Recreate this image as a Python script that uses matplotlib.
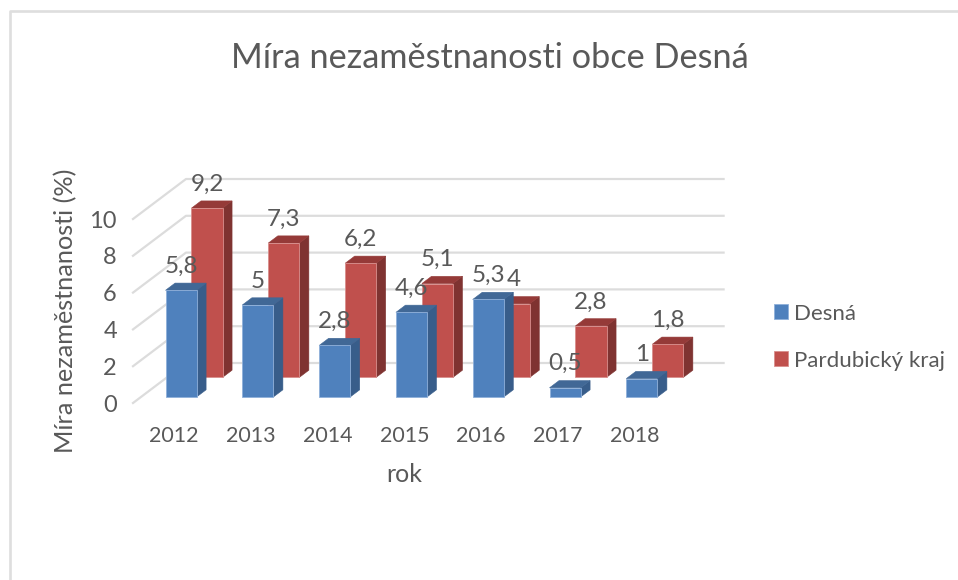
import matplotlib
matplotlib.use("Agg")
import matplotlib.pyplot as plt
from matplotlib.lines import Line2D
from matplotlib.patches import Patch, Polygon

plt.rcParams["font.family"] = ["Lato", "DejaVu Sans"]

years = ["2012", "2013", "2014", "2015", "2016", "2017", "2018"]
desna = [5.8, 5, 2.8, 4.6, 5.3, 0.5, 1]
pardubice = [9.2, 7.3, 6.2, 5.1, 4, 2.8, 1.8]
y_ticks = [0, 2, 4, 6, 8, 10]

text_col = "#595959"
grid_col = "#dcdcdc"

# pixels per unit and the oblique shift of the floor
cat_px = 76.8
val_px = 18.4
left_px = 133
floor_px = 403
depth_dx = 53 / cat_px
depth_dy = 40 / val_px


def project(c, d, v):
    return c + d * depth_dx, v + d * depth_dy


def draw_bar(ax, c, d0, value, cols, edge, z):
    width = 0.404
    depth = 0.18
    x0 = c + 0.32
    x1 = x0 + width
    d1 = d0 + depth
    front = [project(x0, d0, 0), project(x1, d0, 0), project(x1, d0, value), project(x0, d0, value)]
    side = [project(x1, d0, 0), project(x1, d1, 0), project(x1, d1, value), project(x1, d0, value)]
    top = [project(x0, d0, value), project(x1, d0, value), project(x1, d1, value), project(x0, d1, value)]
    ax.add_patch(Polygon(side, fc=cols[1], ec=cols[1], lw=0.4, zorder=z))
    ax.add_patch(Polygon(top, fc=cols[2], ec=cols[2], lw=0.4, zorder=z))
    ax.add_patch(Polygon(front, fc=cols[0], ec=edge, lw=0.6, zorder=z + 0.1))
    return project(x0 + width / 2, d0, value)


fig = plt.figure(figsize=(9.58, 5.8), dpi=100)
ax = fig.add_axes([0, 0, 1, 1])
ax.set_xlim(-left_px / cat_px, (958 - left_px) / cat_px)
ax.set_ylim((floor_px - 580) / val_px, floor_px / val_px)
ax.axis("off")

# chart frame, cut off by the screenshot on the right and at the bottom
fig.add_artist(Line2D([9.5 / 958, 9.5 / 958, 1], [0, 1 - 11 / 580, 1 - 11 / 580], color="#dedede", lw=1.9))

# walls
for v in y_ticks:
    xs, ys = zip(project(0, 0, v), project(0, 1, v), project(len(years), 1, v))
    ax.plot(xs, ys, color=grid_col, lw=1.6, zorder=1)
    ax.annotate(str(v), project(0, 0, v), xytext=(-16, -2), textcoords="offset pixels",
                ha="right", va="center", fontsize=17, color=text_col)

blue = ("#4f81bd", "#385d8a", "#416896")
red = ("#c0504d", "#7f3331", "#953a38")

labels = []
for i, v in enumerate(pardubice):
    labels.append((draw_bar(ax, i, 0.64, v, red, "#d98f8d", 3 + i * 0.2), v))
for i, v in enumerate(desna):
    labels.append((draw_bar(ax, i, 0.15, v, blue, "#8fb0da", 6 + i * 0.2), v))

for pos, v in labels:
    ax.annotate(str(v).replace(".", ","), pos, xytext=(0, 24), textcoords="offset pixels",
                ha="center", va="center", fontsize=17.5, color=text_col, zorder=10)

for i, year in enumerate(years):
    ax.annotate(year, (i + 0.5, 0), xytext=(2.5, -33), textcoords="offset pixels",
                ha="center", va="center", fontsize=15.4, color=text_col)

ax.text(489.5 / 958, 1 - 58 / 580, "Míra nezaměstnanosti obce Desná", transform=ax.transAxes,
        ha="center", va="center", fontsize=24.7, color=text_col)
ax.text(404 / 958, 1 - 474 / 580, "rok", transform=ax.transAxes,
        ha="center", va="center", fontsize=18, color=text_col)
ax.text(66 / 958, 1 - 311 / 580, "Míra nezaměstnanosti (%)", transform=ax.transAxes, rotation=90,
        ha="center", va="center", fontsize=18.2, color=text_col)

handles = [Patch(fc=blue[0], ec="#8fb0da", lw=0.6), Patch(fc=red[0], ec="#d98f8d", lw=0.6)]
leg = ax.legend(handles, ["Desná", "Pardubický kraj"], loc="upper left",
                bbox_to_anchor=(774 / 958, 1 - 303.5 / 580), frameon=False, fontsize=16,
                handlelength=0.65, handleheight=0.65, handletextpad=0.25, labelspacing=1.22,
                borderpad=0, borderaxespad=0, labelcolor=text_col)

fig.savefig("out.png", dpi=100)
